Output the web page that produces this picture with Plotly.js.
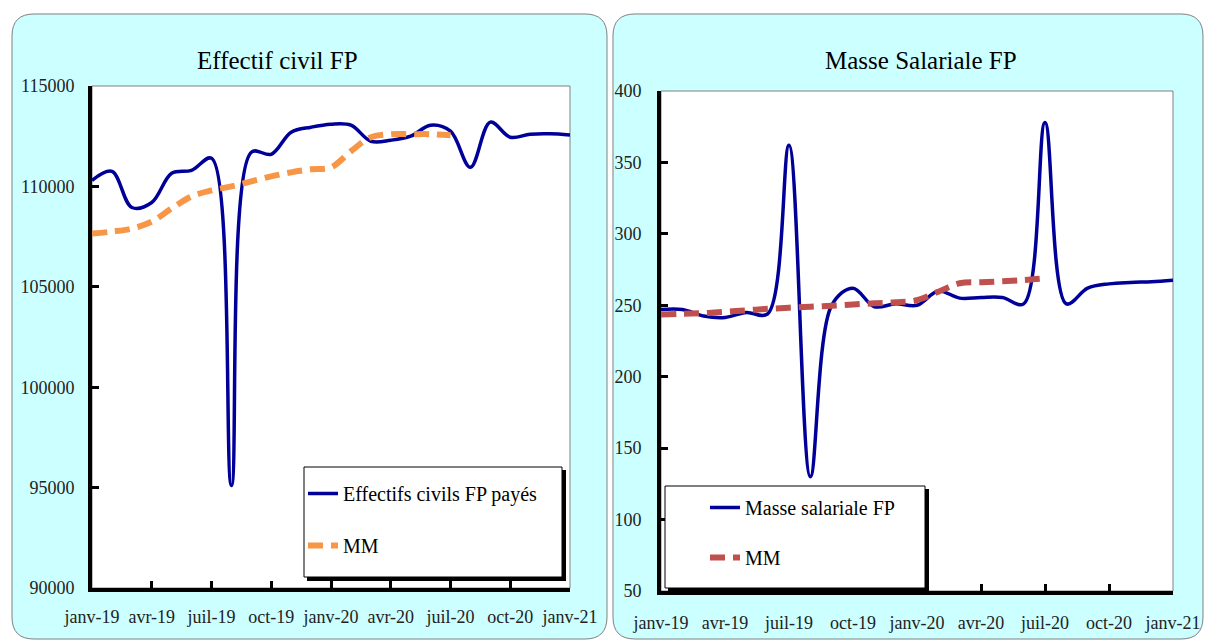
<!DOCTYPE html>
<html><head><meta charset="utf-8">
<script src="https://cdn.plot.ly/plotly-3.0.1.min.js"></script>
<style>html,body{margin:0;padding:0;background:#fff;} #chart{width:1205px;height:641px;}</style>
</head><body><div id="chart"></div>
<script>
const months = ["janv-19","févr-19","mars-19","avr-19","mai-19","juin-19","juil-19","août-19","sept-19","oct-19","nov-19","déc-19",
  "janv-20","févr-20","mars-20","avr-20","mai-20","juin-20","juil-20","août-20","sept-20","oct-20","nov-20","déc-20","janv-21"];
const tickMonths = ["janv-19","avr-19","juil-19","oct-19","janv-20","avr-20","juil-20","oct-20","janv-21"];

const effectifs = [110300,110750,108950,109200,110650,110800,111400,95100,111700,111600,112700,112950,
  113100,113050,112250,112300,112500,113050,112750,110950,113200,112450,112600,112620,112560];
const mmEffectifs = [107650,107750,107900,108250,108900,109500,109800,110000,110250,110500,110700,110850,
  110950,111750,112450,112600,112600,112600,112550];

const masse = [247,247,242.5,241.5,245,244,362,130,250,262,249,251,
  250,260,255,255.5,255.5,251,378,251,262,265,266,266.5,267.5];
const mmMasse = [243.5,244,244.5,245.5,246.5,247.5,248.3,249,249.7,250.6,251.4,252.1,
  253.6,259.5,265.4,266.1,266.8,267.7,268.9];

const effTicks = [90000,95000,100000,105000,110000,115000];
const masseTicks = [50,100,150,200,250,300,350,400];

const W = 1205, H = 641;
const fx = p => p / W, fy = p => 1 - p / H;
const FONT = "Liberation Serif, Times New Roman, serif";

function roundRect(x0, y0, x1, y1, r) {
  const P = (x, y) => fx(x).toFixed(5) + "," + fy(y).toFixed(5);
  return "M" + P(x0 + r, y0) + " L" + P(x1 - r, y0) + " Q" + P(x1, y0) + " " + P(x1, y0 + r) +
    " L" + P(x1, y1 - r) + " Q" + P(x1, y1) + " " + P(x1 - r, y1) +
    " L" + P(x0 + r, y1) + " Q" + P(x0, y1) + " " + P(x0, y1 - r) +
    " L" + P(x0, y0 + r) + " Q" + P(x0, y0) + " " + P(x0 + r, y0) + " Z";
}
function rect(x0, y0, x1, y1, fill, line, lw, layer) {
  return {type: "rect", xref: "paper", yref: "paper", x0: fx(x0), x1: fx(x1), y0: fy(y1), y1: fy(y0),
    fillcolor: fill, line: {color: line, width: lw}, layer: layer};
}

const traces = [
  {x: months, y: effectifs, xaxis: "x", yaxis: "y", type: "scatter", mode: "lines",
   name: "Effectifs civils FP payés", legend: "legend", legendgroup: "a",
   line: {color: "#000099", width: 3.5, shape: "spline", smoothing: 1}},
  {x: months.slice(0, mmEffectifs.length), y: mmEffectifs, xaxis: "x", yaxis: "y", type: "scatter", mode: "lines",
   name: "MM", legend: "legend", legendgroup: "b",
   line: {color: "#F79646", width: 6, dash: "15px,8px", shape: "spline", smoothing: 1}},
  {x: months, y: masse, xaxis: "x2", yaxis: "y2", type: "scatter", mode: "lines",
   name: "Masse salariale FP", legend: "legend2", legendgroup: "c",
   line: {color: "#000099", width: 3.5, shape: "spline", smoothing: 1}},
  {x: months.slice(0, mmMasse.length), y: mmMasse, xaxis: "x2", yaxis: "y2", type: "scatter", mode: "lines",
   name: "MM", legend: "legend2", legendgroup: "d",
   line: {color: "#C0504D", width: 6, dash: "15px,8px", shape: "spline", smoothing: 1}}
];

const axisCommon = {
  showline: true, linecolor: "black", linewidth: 4, mirror: false,
  ticks: "inside", ticklen: 7, tickwidth: 3, tickcolor: "black",
  showgrid: false, zeroline: false, fixedrange: true,
  tickfont: {family: FONT, size: 18, color: "#222"}
};

const layout = {
  width: W, height: H,
  margin: {l: 0, r: 0, t: 0, b: 0},
  paper_bgcolor: "white", plot_bgcolor: "rgba(0,0,0,0)",
  showlegend: true,
  xaxis: Object.assign({}, axisCommon, {domain: [fx(92), fx(570)], anchor: "y", type: "category",
    range: [0, 24], tickmode: "array", tickvals: tickMonths, ticktext: tickMonths, ticklabelstandoff: 9}),
  yaxis: Object.assign({}, axisCommon, {domain: [fy(588), fy(86)], anchor: "x", range: [90000, 115000],
    tickmode: "array", tickvals: effTicks, ticktext: effTicks.map(String), ticklabelstandoff: 10}),
  xaxis2: Object.assign({}, axisCommon, {domain: [fx(661), fx(1173)], anchor: "y2", type: "category",
    range: [0, 24], tickmode: "array", tickvals: tickMonths, ticktext: tickMonths, ticklabelstandoff: 12}),
  yaxis2: Object.assign({}, axisCommon, {domain: [fy(591), fy(91)], anchor: "x2", range: [50, 400],
    tickmode: "array", tickvals: masseTicks, ticktext: masseTicks.map(String), ticklabelstandoff: 12}),
  legend: {x: fx(303), y: fy(474), xanchor: "left", yanchor: "top", bgcolor: "rgba(0,0,0,0)",
    borderwidth: 0, font: {family: FONT, size: 20, color: "black"},
    traceorder: "grouped", tracegroupgap: 23},
  legend2: {x: fx(705), y: fy(488), xanchor: "left", yanchor: "top", bgcolor: "rgba(0,0,0,0)",
    borderwidth: 0, font: {family: FONT, size: 20, color: "black"},
    traceorder: "grouped", tracegroupgap: 21},
  shapes: [
    {type: "path", xref: "paper", yref: "paper", path: roundRect(12, 14, 607, 639, 22),
     fillcolor: "#CCFFFF", line: {color: "#7f7f7f", width: 1}, layer: "below"},
    {type: "path", xref: "paper", yref: "paper", path: roundRect(613, 14, 1203, 639, 22),
     fillcolor: "#CCFFFF", line: {color: "#7f7f7f", width: 1}, layer: "below"},
    rect(92, 86, 570, 588, "white", "#808080", 1, "below"),
    rect(661, 91, 1173, 591, "white", "#808080", 1, "below"),
    rect(307, 470, 566, 581, "black", "black", 0, "above"),
    rect(304, 467, 562, 577, "white", "black", 1, "above"),
    rect(668, 489, 929, 592, "black", "black", 0, "above"),
    rect(665, 486, 925, 588, "white", "black", 1, "above")
  ],
  annotations: [
    {text: "Effectif civil FP", xref: "paper", yref: "paper", x: fx(277), y: fy(60),
     xanchor: "center", yanchor: "middle", showarrow: false, font: {family: FONT, size: 25, color: "black"}},
    {text: "Masse Salariale FP", xref: "paper", yref: "paper", x: fx(921), y: fy(60),
     xanchor: "center", yanchor: "middle", showarrow: false, font: {family: FONT, size: 25, color: "black"}}
  ]
};

Plotly.newPlot("chart", traces, layout, {displayModeBar: false, staticPlot: true});
</script>
</body></html>
